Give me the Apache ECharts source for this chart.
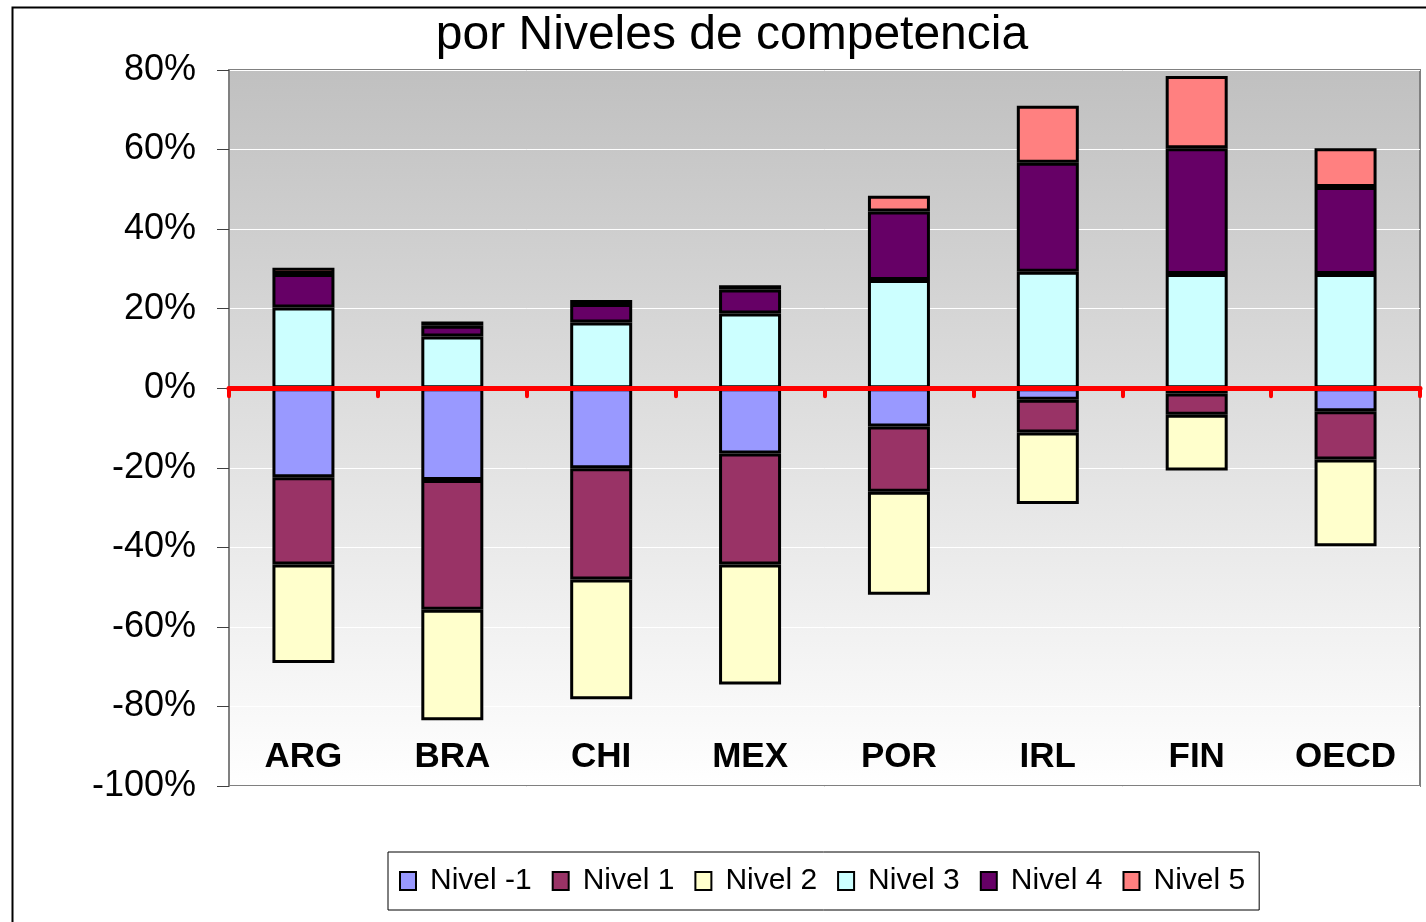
<!DOCTYPE html>
<html lang="es">
<head>
  <meta charset="UTF-8">
  <title>por Niveles de competencia</title>
  <script src="https://cdn.jsdelivr.net/npm/echarts@6.0.0/dist/echarts.min.js"></script>
  <style>
    html, body { margin: 0; padding: 0; background: #fff; }
    #chart { width: 1426px; height: 922px; }
  </style>
</head>
<body>
  <div id="chart"></div>

<script>
  // valores en %, los niveles bajos van hacia abajo (negativos)
  const paises = ['ARG', 'BRA', 'CHI', 'MEX', 'POR', 'IRL', 'FIN', 'OECD']
  const nivelMenos1 = [-22.4, -23.1, -20.1, -16.4, -9.6, -2.9, -1.3, -5.8]
  const nivel1 = [-21.9, -32.6, -28.0, -27.9, -16.4, -8.2, -5.4, -12.1]
  const nivel2 = [-24.8, -27.8, -30.1, -30.2, -25.9, -18.0, -14.0, -21.8]
  const nivel3 = [20.3, 13.0, 16.5, 18.8, 27.2, 29.3, 28.7, 28.7]
  const nivel4 = [8.4, 2.7, 4.7, 6.0, 17.2, 27.4, 31.6, 21.9]
  const nivel5 = [1.6, 1.1, 1.0, 1.1, 4.0, 14.3, 18.2, 9.7]
  const yTicks = { min: -100, max: 80, step: 20 }

  const niveles = [
    { name: 'Nivel -1', data: nivelMenos1, color: '#9999FF' },
    { name: 'Nivel 1', data: nivel1, color: '#993366' },
    { name: 'Nivel 2', data: nivel2, color: '#FFFFCC' },
    { name: 'Nivel 3', data: nivel3, color: '#CCFFFF' },
    { name: 'Nivel 4', data: nivel4, color: '#660066' },
    { name: 'Nivel 5', data: nivel5, color: '#FF8080' }
  ]

  const font = 'Liberation Sans, Arial, sans-serif'
  const myChart = echarts.init(document.getElementById('chart'))

  const option = {
    animation: false,
    title: {
      text: 'por Niveles de competencia',
      left: 727,
      textAlign: 'center',
      top: 7,
      textStyle: {
        fontFamily: font, fontSize: 48, fontWeight: 'normal', color: '#000',
        textShadowColor: '#9a9a9a', textShadowOffsetX: 2, textShadowOffsetY: 2, textShadowBlur: 0
      }
    },
    graphic: [{
      type: 'rect', left: 10, top: 5, silent: true,
      shape: { width: 1440, height: 940 },
      style: { fill: 'none', stroke: '#000', lineWidth: 2 }
    }],
    legend: {
      left: 388, top: 852,
      icon: 'rect',
      itemWidth: 16, itemHeight: 18, itemGap: 20,
      padding: [14, 14, 14, 11],
      borderColor: '#000', borderWidth: 1, backgroundColor: '#fff',
      itemStyle: { borderWidth: 2, borderColor: '#000' },
      textStyle: { fontFamily: font, fontSize: 30, color: '#000', padding: [0, 0, 0, 9] },
      data: niveles.map(n => n.name)
    },
    grid: {
      left: 229, right: 6, top: 70, bottom: 136,
      outerBoundsMode: 'none',
      containLabel: false,
      show: true,
      borderColor: '#808080', borderWidth: 2,
      backgroundColor: new echarts.graphic.LinearGradient(0, 0, 0, 1, [
        { offset: 0, color: '#C0C0C0' },
        { offset: 1, color: '#FFFFFF' }
      ])
    },
    xAxis: [{
      // eje rojo en el cero
      type: 'category',
      data: paises,
      z: 10,
      axisLine: { onZero: true, lineStyle: { color: '#FF0000', width: 5 } },
      axisTick: { show: true, length: 8, lineStyle: { color: '#FF0000', width: 4, cap: 'round' } },
      axisLabel: { show: false }
    }, {
      // etiquetas de paises abajo, dentro del grafico
      type: 'category',
      data: paises,
      position: 'bottom',
      axisLine: { show: false, onZero: false },
      axisTick: { show: false },
      axisLabel: { inside: true, margin: 11, fontFamily: font, fontSize: 35, fontWeight: 'bold', color: '#000' }
    }],
    yAxis: {
      type: 'value',
      min: yTicks.min, max: yTicks.max, interval: yTicks.step,
      axisLine: { show: true, lineStyle: { color: '#808080', width: 2 } },
      axisTick: { show: true, length: 12, lineStyle: { color: '#404040', width: 1 } },
      axisLabel: { margin: 33, formatter: '{value}%', fontFamily: font, fontSize: 36, color: '#000' },
      splitLine: { show: true, lineStyle: { color: '#ffffff', width: 1 } }
    },
    series: niveles.map(n => ({
      name: n.name,
      type: 'bar',
      stack: 'total',
      barWidth: 62,
      data: n.data,
      itemStyle: { color: n.color, borderColor: '#000', borderWidth: 3 }
    }))
  }

  myChart.setOption(option)
</script>
</body>
</html>
